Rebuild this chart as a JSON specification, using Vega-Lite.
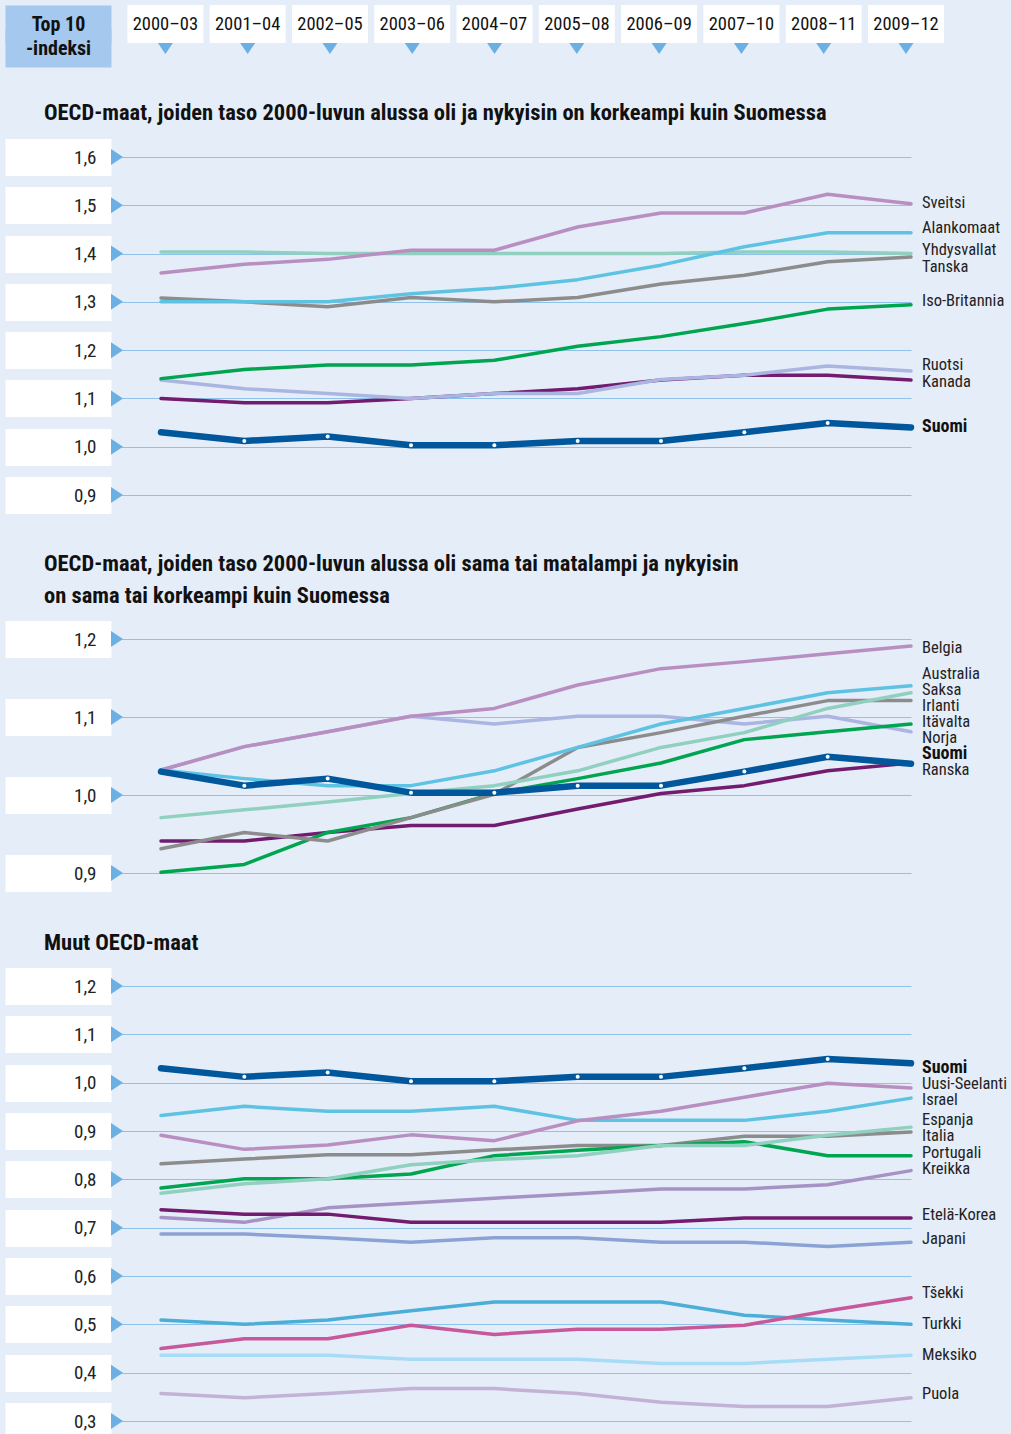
{
"$schema": "https://vega.github.io/schema/vega-lite/v6.json",
"background": "#e5edf9",
"padding": {"left": -14, "top": 5, "right": 12, "bottom": 0},
"spacing": 13,
"resolve": {"scale": {"x": "independent", "y": "independent", "color": "independent"}},
"config": {
  "view": {"stroke": null},
  "font": "Roboto Condensed, Roboto, sans-serif",
  "title": {"font": "Roboto Condensed, Roboto, sans-serif", "fontSize": 22.5, "fontWeight": "bold", "anchor": "start", "frame": "group", "orient": "bottom", "color": "#111111", "dx": -67, "lineHeight": 32},
  "axisY": {"domain": false, "tickColor": "white", "tickWidth": 37, "tickSize": 106, "tickCap": "butt", "grid": true, "gridColor": "#8dc3ea", "gridWidth": 1.2, "labelAlign": "right", "labelBaseline": "middle", "labelPadding": -91, "labelFontSize": 19, "labelColor": "#222222", "labelOverlap": false, "labelFont": "Roboto Condensed, Roboto, sans-serif", "labelExpr": "replace(format(datum.value, '.1f'), '.', ',')"}
},
"datasets": {
  "periods": [
    {"s": 2000, "p": "2000–03"}, {"s": 2001, "p": "2001–04"}, {"s": 2002, "p": "2002–05"}, {"s": 2003, "p": "2003–06"}, {"s": 2004, "p": "2004–07"},
    {"s": 2005, "p": "2005–08"}, {"s": 2006, "p": "2006–09"}, {"s": 2007, "p": "2007–10"}, {"s": 2008, "p": "2008–11"}, {"s": 2009, "p": "2009–12"}
  ],
  "fi": [
    {"c": "Suomi", "s": 2000, "v": 1.03}, {"c": "Suomi", "s": 2001, "v": 1.012}, {"c": "Suomi", "s": 2002, "v": 1.021}, {"c": "Suomi", "s": 2003, "v": 1.003}, {"c": "Suomi", "s": 2004, "v": 1.003},
    {"c": "Suomi", "s": 2005, "v": 1.012}, {"c": "Suomi", "s": 2006, "v": 1.012}, {"c": "Suomi", "s": 2007, "v": 1.03}, {"c": "Suomi", "s": 2008, "v": 1.049}, {"c": "Suomi", "s": 2009, "v": 1.04}
  ],
  "p1": [
    {"c": "Kanada", "s": 2000, "v": 1.10}, {"c": "Kanada", "s": 2001, "v": 1.091}, {"c": "Kanada", "s": 2002, "v": 1.091}, {"c": "Kanada", "s": 2003, "v": 1.10}, {"c": "Kanada", "s": 2004, "v": 1.11},
    {"c": "Kanada", "s": 2005, "v": 1.12}, {"c": "Kanada", "s": 2006, "v": 1.138}, {"c": "Kanada", "s": 2007, "v": 1.148}, {"c": "Kanada", "s": 2008, "v": 1.148}, {"c": "Kanada", "s": 2009, "v": 1.138},
    {"c": "Ruotsi", "s": 2000, "v": 1.138}, {"c": "Ruotsi", "s": 2001, "v": 1.12}, {"c": "Ruotsi", "s": 2002, "v": 1.11}, {"c": "Ruotsi", "s": 2003, "v": 1.10}, {"c": "Ruotsi", "s": 2004, "v": 1.11},
    {"c": "Ruotsi", "s": 2005, "v": 1.11}, {"c": "Ruotsi", "s": 2006, "v": 1.139}, {"c": "Ruotsi", "s": 2007, "v": 1.148}, {"c": "Ruotsi", "s": 2008, "v": 1.167}, {"c": "Ruotsi", "s": 2009, "v": 1.157},
    {"c": "Iso-Britannia", "s": 2000, "v": 1.141}, {"c": "Iso-Britannia", "s": 2001, "v": 1.16}, {"c": "Iso-Britannia", "s": 2002, "v": 1.169}, {"c": "Iso-Britannia", "s": 2003, "v": 1.169}, {"c": "Iso-Britannia", "s": 2004, "v": 1.179},
    {"c": "Iso-Britannia", "s": 2005, "v": 1.208}, {"c": "Iso-Britannia", "s": 2006, "v": 1.228}, {"c": "Iso-Britannia", "s": 2007, "v": 1.255}, {"c": "Iso-Britannia", "s": 2008, "v": 1.285}, {"c": "Iso-Britannia", "s": 2009, "v": 1.294},
    {"c": "Yhdysvallat", "s": 2000, "v": 1.403}, {"c": "Yhdysvallat", "s": 2001, "v": 1.403}, {"c": "Yhdysvallat", "s": 2002, "v": 1.40}, {"c": "Yhdysvallat", "s": 2003, "v": 1.40}, {"c": "Yhdysvallat", "s": 2004, "v": 1.40},
    {"c": "Yhdysvallat", "s": 2005, "v": 1.40}, {"c": "Yhdysvallat", "s": 2006, "v": 1.40}, {"c": "Yhdysvallat", "s": 2007, "v": 1.403}, {"c": "Yhdysvallat", "s": 2008, "v": 1.403}, {"c": "Yhdysvallat", "s": 2009, "v": 1.40},
    {"c": "Tanska", "s": 2000, "v": 1.308}, {"c": "Tanska", "s": 2001, "v": 1.30}, {"c": "Tanska", "s": 2002, "v": 1.29}, {"c": "Tanska", "s": 2003, "v": 1.309}, {"c": "Tanska", "s": 2004, "v": 1.30},
    {"c": "Tanska", "s": 2005, "v": 1.309}, {"c": "Tanska", "s": 2006, "v": 1.337}, {"c": "Tanska", "s": 2007, "v": 1.355}, {"c": "Tanska", "s": 2008, "v": 1.383}, {"c": "Tanska", "s": 2009, "v": 1.393},
    {"c": "Alankomaat", "s": 2000, "v": 1.30}, {"c": "Alankomaat", "s": 2001, "v": 1.30}, {"c": "Alankomaat", "s": 2002, "v": 1.30}, {"c": "Alankomaat", "s": 2003, "v": 1.317}, {"c": "Alankomaat", "s": 2004, "v": 1.328},
    {"c": "Alankomaat", "s": 2005, "v": 1.346}, {"c": "Alankomaat", "s": 2006, "v": 1.376}, {"c": "Alankomaat", "s": 2007, "v": 1.414}, {"c": "Alankomaat", "s": 2008, "v": 1.443}, {"c": "Alankomaat", "s": 2009, "v": 1.443},
    {"c": "Sveitsi", "s": 2000, "v": 1.36}, {"c": "Sveitsi", "s": 2001, "v": 1.378}, {"c": "Sveitsi", "s": 2002, "v": 1.388}, {"c": "Sveitsi", "s": 2003, "v": 1.407}, {"c": "Sveitsi", "s": 2004, "v": 1.407},
    {"c": "Sveitsi", "s": 2005, "v": 1.455}, {"c": "Sveitsi", "s": 2006, "v": 1.484}, {"c": "Sveitsi", "s": 2007, "v": 1.484}, {"c": "Sveitsi", "s": 2008, "v": 1.523}, {"c": "Sveitsi", "s": 2009, "v": 1.503}
  ],
  "l1": [
    {"c": "Sveitsi", "y": 1.505}, {"c": "Alankomaat", "y": 1.453}, {"c": "Yhdysvallat", "y": 1.408}, {"c": "Tanska", "y": 1.373},
    {"c": "Iso-Britannia", "y": 1.301}, {"c": "Ruotsi", "y": 1.17}, {"c": "Kanada", "y": 1.133}, {"c": "Suomi", "y": 1.041}
  ],
  "p2": [
    {"c": "Ranska", "s": 2000, "v": 0.941}, {"c": "Ranska", "s": 2001, "v": 0.941}, {"c": "Ranska", "s": 2002, "v": 0.952}, {"c": "Ranska", "s": 2003, "v": 0.961}, {"c": "Ranska", "s": 2004, "v": 0.961},
    {"c": "Ranska", "s": 2005, "v": 0.982}, {"c": "Ranska", "s": 2006, "v": 1.002}, {"c": "Ranska", "s": 2007, "v": 1.012}, {"c": "Ranska", "s": 2008, "v": 1.031}, {"c": "Ranska", "s": 2009, "v": 1.041},
    {"c": "Norja", "s": 2000, "v": 1.032}, {"c": "Norja", "s": 2001, "v": 1.062}, {"c": "Norja", "s": 2002, "v": 1.081}, {"c": "Norja", "s": 2003, "v": 1.101}, {"c": "Norja", "s": 2004, "v": 1.091},
    {"c": "Norja", "s": 2005, "v": 1.101}, {"c": "Norja", "s": 2006, "v": 1.101}, {"c": "Norja", "s": 2007, "v": 1.091}, {"c": "Norja", "s": 2008, "v": 1.101}, {"c": "Norja", "s": 2009, "v": 1.081},
    {"c": "Itävalta", "s": 2000, "v": 0.901}, {"c": "Itävalta", "s": 2001, "v": 0.911}, {"c": "Itävalta", "s": 2002, "v": 0.952}, {"c": "Itävalta", "s": 2003, "v": 0.971}, {"c": "Itävalta", "s": 2004, "v": 1.002},
    {"c": "Itävalta", "s": 2005, "v": 1.021}, {"c": "Itävalta", "s": 2006, "v": 1.041}, {"c": "Itävalta", "s": 2007, "v": 1.071}, {"c": "Itävalta", "s": 2008, "v": 1.081}, {"c": "Itävalta", "s": 2009, "v": 1.091},
    {"c": "Irlanti", "s": 2000, "v": 0.931}, {"c": "Irlanti", "s": 2001, "v": 0.952}, {"c": "Irlanti", "s": 2002, "v": 0.941}, {"c": "Irlanti", "s": 2003, "v": 0.971}, {"c": "Irlanti", "s": 2004, "v": 1.001},
    {"c": "Irlanti", "s": 2005, "v": 1.061}, {"c": "Irlanti", "s": 2006, "v": 1.08}, {"c": "Irlanti", "s": 2007, "v": 1.101}, {"c": "Irlanti", "s": 2008, "v": 1.121}, {"c": "Irlanti", "s": 2009, "v": 1.121},
    {"c": "Saksa", "s": 2000, "v": 0.971}, {"c": "Saksa", "s": 2001, "v": 0.981}, {"c": "Saksa", "s": 2002, "v": 0.991}, {"c": "Saksa", "s": 2003, "v": 1.002}, {"c": "Saksa", "s": 2004, "v": 1.012},
    {"c": "Saksa", "s": 2005, "v": 1.031}, {"c": "Saksa", "s": 2006, "v": 1.061}, {"c": "Saksa", "s": 2007, "v": 1.08}, {"c": "Saksa", "s": 2008, "v": 1.111}, {"c": "Saksa", "s": 2009, "v": 1.131},
    {"c": "Belgia", "s": 2000, "v": 1.032}, {"c": "Belgia", "s": 2001, "v": 1.062}, {"c": "Belgia", "s": 2002, "v": 1.081}, {"c": "Belgia", "s": 2003, "v": 1.101}, {"c": "Belgia", "s": 2004, "v": 1.111},
    {"c": "Belgia", "s": 2005, "v": 1.141}, {"c": "Belgia", "s": 2006, "v": 1.162}, {"c": "Belgia", "s": 2007, "v": 1.171}, {"c": "Belgia", "s": 2008, "v": 1.181}, {"c": "Belgia", "s": 2009, "v": 1.191},
    {"c": "Australia", "s": 2000, "v": 1.032}, {"c": "Australia", "s": 2001, "v": 1.021}, {"c": "Australia", "s": 2002, "v": 1.012}, {"c": "Australia", "s": 2003, "v": 1.012}, {"c": "Australia", "s": 2004, "v": 1.031},
    {"c": "Australia", "s": 2005, "v": 1.061}, {"c": "Australia", "s": 2006, "v": 1.091}, {"c": "Australia", "s": 2007, "v": 1.111}, {"c": "Australia", "s": 2008, "v": 1.131}, {"c": "Australia", "s": 2009, "v": 1.14}
  ],
  "l2": [
    {"c": "Belgia", "y": 1.188}, {"c": "Australia", "y": 1.155}, {"c": "Saksa", "y": 1.135}, {"c": "Irlanti", "y": 1.114},
    {"c": "Itävalta", "y": 1.094}, {"c": "Norja", "y": 1.073}, {"c": "Suomi", "y": 1.053}, {"c": "Ranska", "y": 1.032}
  ],
  "p3": [
    {"c": "Puola", "s": 2000, "v": 0.357}, {"c": "Puola", "s": 2001, "v": 0.348}, {"c": "Puola", "s": 2002, "v": 0.357}, {"c": "Puola", "s": 2003, "v": 0.367}, {"c": "Puola", "s": 2004, "v": 0.367},
    {"c": "Puola", "s": 2005, "v": 0.357}, {"c": "Puola", "s": 2006, "v": 0.339}, {"c": "Puola", "s": 2007, "v": 0.33}, {"c": "Puola", "s": 2008, "v": 0.33}, {"c": "Puola", "s": 2009, "v": 0.348},
    {"c": "Meksiko", "s": 2000, "v": 0.436}, {"c": "Meksiko", "s": 2001, "v": 0.436}, {"c": "Meksiko", "s": 2002, "v": 0.436}, {"c": "Meksiko", "s": 2003, "v": 0.428}, {"c": "Meksiko", "s": 2004, "v": 0.428},
    {"c": "Meksiko", "s": 2005, "v": 0.428}, {"c": "Meksiko", "s": 2006, "v": 0.419}, {"c": "Meksiko", "s": 2007, "v": 0.419}, {"c": "Meksiko", "s": 2008, "v": 0.428}, {"c": "Meksiko", "s": 2009, "v": 0.436},
    {"c": "Turkki", "s": 2000, "v": 0.509}, {"c": "Turkki", "s": 2001, "v": 0.5}, {"c": "Turkki", "s": 2002, "v": 0.509}, {"c": "Turkki", "s": 2003, "v": 0.528}, {"c": "Turkki", "s": 2004, "v": 0.546},
    {"c": "Turkki", "s": 2005, "v": 0.546}, {"c": "Turkki", "s": 2006, "v": 0.546}, {"c": "Turkki", "s": 2007, "v": 0.519}, {"c": "Turkki", "s": 2008, "v": 0.509}, {"c": "Turkki", "s": 2009, "v": 0.5},
    {"c": "Tšekki", "s": 2000, "v": 0.45}, {"c": "Tšekki", "s": 2001, "v": 0.47}, {"c": "Tšekki", "s": 2002, "v": 0.47}, {"c": "Tšekki", "s": 2003, "v": 0.498}, {"c": "Tšekki", "s": 2004, "v": 0.479},
    {"c": "Tšekki", "s": 2005, "v": 0.49}, {"c": "Tšekki", "s": 2006, "v": 0.49}, {"c": "Tšekki", "s": 2007, "v": 0.498}, {"c": "Tšekki", "s": 2008, "v": 0.528}, {"c": "Tšekki", "s": 2009, "v": 0.555},
    {"c": "Japani", "s": 2000, "v": 0.687}, {"c": "Japani", "s": 2001, "v": 0.687}, {"c": "Japani", "s": 2002, "v": 0.679}, {"c": "Japani", "s": 2003, "v": 0.67}, {"c": "Japani", "s": 2004, "v": 0.679},
    {"c": "Japani", "s": 2005, "v": 0.679}, {"c": "Japani", "s": 2006, "v": 0.67}, {"c": "Japani", "s": 2007, "v": 0.67}, {"c": "Japani", "s": 2008, "v": 0.661}, {"c": "Japani", "s": 2009, "v": 0.67},
    {"c": "Kreikka", "s": 2000, "v": 0.721}, {"c": "Kreikka", "s": 2001, "v": 0.711}, {"c": "Kreikka", "s": 2002, "v": 0.741}, {"c": "Kreikka", "s": 2003, "v": 0.751}, {"c": "Kreikka", "s": 2004, "v": 0.761},
    {"c": "Kreikka", "s": 2005, "v": 0.77}, {"c": "Kreikka", "s": 2006, "v": 0.78}, {"c": "Kreikka", "s": 2007, "v": 0.78}, {"c": "Kreikka", "s": 2008, "v": 0.789}, {"c": "Kreikka", "s": 2009, "v": 0.818},
    {"c": "Etelä-Korea", "s": 2000, "v": 0.737}, {"c": "Etelä-Korea", "s": 2001, "v": 0.728}, {"c": "Etelä-Korea", "s": 2002, "v": 0.728}, {"c": "Etelä-Korea", "s": 2003, "v": 0.711}, {"c": "Etelä-Korea", "s": 2004, "v": 0.711},
    {"c": "Etelä-Korea", "s": 2005, "v": 0.711}, {"c": "Etelä-Korea", "s": 2006, "v": 0.711}, {"c": "Etelä-Korea", "s": 2007, "v": 0.72}, {"c": "Etelä-Korea", "s": 2008, "v": 0.72}, {"c": "Etelä-Korea", "s": 2009, "v": 0.72},
    {"c": "Italia", "s": 2000, "v": 0.832}, {"c": "Italia", "s": 2001, "v": 0.842}, {"c": "Italia", "s": 2002, "v": 0.851}, {"c": "Italia", "s": 2003, "v": 0.851}, {"c": "Italia", "s": 2004, "v": 0.861},
    {"c": "Italia", "s": 2005, "v": 0.87}, {"c": "Italia", "s": 2006, "v": 0.87}, {"c": "Italia", "s": 2007, "v": 0.889}, {"c": "Italia", "s": 2008, "v": 0.889}, {"c": "Italia", "s": 2009, "v": 0.898},
    {"c": "Portugali", "s": 2000, "v": 0.782}, {"c": "Portugali", "s": 2001, "v": 0.801}, {"c": "Portugali", "s": 2002, "v": 0.801}, {"c": "Portugali", "s": 2003, "v": 0.811}, {"c": "Portugali", "s": 2004, "v": 0.849},
    {"c": "Portugali", "s": 2005, "v": 0.86}, {"c": "Portugali", "s": 2006, "v": 0.87}, {"c": "Portugali", "s": 2007, "v": 0.878}, {"c": "Portugali", "s": 2008, "v": 0.849}, {"c": "Portugali", "s": 2009, "v": 0.849},
    {"c": "Espanja", "s": 2000, "v": 0.771}, {"c": "Espanja", "s": 2001, "v": 0.791}, {"c": "Espanja", "s": 2002, "v": 0.801}, {"c": "Espanja", "s": 2003, "v": 0.83}, {"c": "Espanja", "s": 2004, "v": 0.841},
    {"c": "Espanja", "s": 2005, "v": 0.849}, {"c": "Espanja", "s": 2006, "v": 0.87}, {"c": "Espanja", "s": 2007, "v": 0.87}, {"c": "Espanja", "s": 2008, "v": 0.891}, {"c": "Espanja", "s": 2009, "v": 0.908},
    {"c": "Israel", "s": 2000, "v": 0.932}, {"c": "Israel", "s": 2001, "v": 0.951}, {"c": "Israel", "s": 2002, "v": 0.941}, {"c": "Israel", "s": 2003, "v": 0.941}, {"c": "Israel", "s": 2004, "v": 0.951},
    {"c": "Israel", "s": 2005, "v": 0.922}, {"c": "Israel", "s": 2006, "v": 0.922}, {"c": "Israel", "s": 2007, "v": 0.922}, {"c": "Israel", "s": 2008, "v": 0.941}, {"c": "Israel", "s": 2009, "v": 0.968},
    {"c": "Uusi-Seelanti", "s": 2000, "v": 0.891}, {"c": "Uusi-Seelanti", "s": 2001, "v": 0.862}, {"c": "Uusi-Seelanti", "s": 2002, "v": 0.871}, {"c": "Uusi-Seelanti", "s": 2003, "v": 0.892}, {"c": "Uusi-Seelanti", "s": 2004, "v": 0.88},
    {"c": "Uusi-Seelanti", "s": 2005, "v": 0.921}, {"c": "Uusi-Seelanti", "s": 2006, "v": 0.941}, {"c": "Uusi-Seelanti", "s": 2007, "v": 0.97}, {"c": "Uusi-Seelanti", "s": 2008, "v": 0.999}, {"c": "Uusi-Seelanti", "s": 2009, "v": 0.989}
  ],
  "l3": [
    {"c": "Suomi", "y": 1.031}, {"c": "Uusi-Seelanti", "y": 0.998}, {"c": "Israel", "y": 0.965}, {"c": "Espanja", "y": 0.923}, {"c": "Italia", "y": 0.89},
    {"c": "Portugali", "y": 0.855}, {"c": "Kreikka", "y": 0.822}, {"c": "Etelä-Korea", "y": 0.727}, {"c": "Japani", "y": 0.677},
    {"c": "Tšekki", "y": 0.565}, {"c": "Turkki", "y": 0.501}, {"c": "Meksiko", "y": 0.437}, {"c": "Puola", "y": 0.356}
  ],
  "t1": [{"t": 0.9}, {"t": 1.0}, {"t": 1.1}, {"t": 1.2}, {"t": 1.3}, {"t": 1.4}, {"t": 1.5}, {"t": 1.6}],
  "t2": [{"t": 0.9}, {"t": 1.0}, {"t": 1.1}, {"t": 1.2}],
  "t3": [{"t": 0.3}, {"t": 0.4}, {"t": 0.5}, {"t": 0.6}, {"t": 0.7}, {"t": 0.8}, {"t": 0.9}, {"t": 1.0}, {"t": 1.1}, {"t": 1.2}]
},
"vconcat": [
  {
    "width": 800, "height": 62,
    "data": {"name": "periods"},
    "title": {"text": "OECD-maat, joiden taso 2000-luvun alussa oli ja nykyisin on korkeampi kuin Suomessa", "offset": 35},
    "layer": [
      {"mark": {"type": "bar", "width": 76, "color": "white"},
       "encoding": {
         "x": {"field": "s", "type": "quantitative", "scale": {"domain": [1999.4, 2009], "nice": false, "zero": false}, "axis": null},
         "y": {"datum": 0, "type": "quantitative", "scale": {"domain": [0, 62], "reverse": true, "nice": false, "zero": false},
               "axis": {"values": [19, 43], "tickColor": "#a5c9ee", "tickWidth": 38, "tickSize": 106, "grid": false, "labelExpr": "datum.value < 30 ? 'Top 10' : '-indeksi'", "labelAlign": "center", "labelPadding": -53, "labelFontWeight": "bold", "labelFontSize": 20, "labelColor": "#111111", "title": null}},
         "y2": {"datum": 38}}},
      {"mark": {"type": "text", "fontSize": 18.5, "color": "#111111", "baseline": "middle"},
       "encoding": {
         "x": {"field": "s", "type": "quantitative"},
         "y": {"datum": 19, "type": "quantitative"},
         "text": {"field": "p"}}},
      {"mark": {"type": "point", "shape": "M-1,-0.73L1,-0.73L0,0.73Z", "filled": true, "size": 225, "color": "#6cb0e3", "opacity": 1},
       "encoding": {
         "x": {"field": "s", "type": "quantitative"},
         "y": {"datum": 43.5, "type": "quantitative"}}}
    ]
  },
  {
    "width": 800, "height": 338,
    "title": {"text": ["OECD-maat, joiden taso 2000-luvun alussa oli sama tai matalampi ja nykyisin", "on sama tai korkeampi kuin Suomessa"], "offset": 39},
    "layer": [
      {"mark": {"type": "rule", "color": "#6cb0e4", "strokeWidth": 5},
       "encoding": {"y": {"datum": 1, "type": "quantitative", "scale": {"domain": [0.9, 1.6], "nice": false, "zero": false}, "axis": {"values": [0.9, 1.0, 1.1, 1.2, 1.3, 1.4, 1.5, 1.6], "title": null}}}},
      {"data": {"name": "p1"},
       "mark": {"type": "line", "strokeWidth": 3.5, "strokeCap": "round", "strokeJoin": "round"},
       "encoding": {
         "x": {"field": "s", "type": "quantitative", "scale": {"domain": [1999.4, 2009], "nice": false, "zero": false}, "axis": null},
         "y": {"field": "v", "type": "quantitative"},
         "color": {"field": "c", "type": "nominal", "legend": null, "sort": null,
           "scale": {"domain": ["Sveitsi", "Alankomaat", "Yhdysvallat", "Tanska", "Iso-Britannia", "Ruotsi", "Kanada"],
                     "range": ["#b88fc0", "#5ec3e3", "#8fd0bf", "#8c8c8c", "#00a550", "#aab5e2", "#731b6e"]}}}},
      {"data": {"name": "fi"},
       "mark": {"type": "line", "strokeWidth": 6.5, "strokeCap": "round", "strokeJoin": "round", "color": "#00579b"},
       "encoding": {"x": {"field": "s", "type": "quantitative"}, "y": {"field": "v", "type": "quantitative"}}},
      {"data": {"name": "fi"},
       "transform": [{"filter": "datum.s >= 2001 && datum.s <= 2008"}],
       "mark": {"type": "circle", "size": 16, "color": "white", "opacity": 1},
       "encoding": {"x": {"field": "s", "type": "quantitative"}, "y": {"field": "v", "type": "quantitative"}}},
      {"data": {"name": "t1"},
       "mark": {"type": "point", "shape": "M-0.75,-1L0.75,0L-0.75,1Z", "filled": true, "size": 256, "color": "#6cb0e3", "opacity": 1, "xOffset": 6},
       "encoding": {"x": {"datum": 1999.4, "type": "quantitative"}, "y": {"field": "t", "type": "quantitative"}}},
      {"data": {"name": "l1"},
       "transform": [{"filter": "datum.c != 'Suomi'"}],
       "mark": {"type": "text", "align": "left", "baseline": "middle", "dx": 11, "fontSize": 16.5, "color": "#222222"},
       "encoding": {"x": {"datum": 2009, "type": "quantitative"}, "y": {"field": "y", "type": "quantitative"}, "text": {"field": "c"}}},
      {"data": {"name": "l1"},
       "transform": [{"filter": "datum.c == 'Suomi'"}],
       "mark": {"type": "text", "align": "left", "baseline": "middle", "dx": 11, "fontSize": 18, "fontWeight": "bold", "color": "#111111"},
       "encoding": {"x": {"datum": 2009, "type": "quantitative"}, "y": {"field": "y", "type": "quantitative"}, "text": {"field": "c"}}}
    ]
  },
  {
    "width": 800, "height": 234,
    "title": {"text": "Muut OECD-maat", "offset": 40},
    "layer": [
      {"mark": {"type": "rule", "color": "#6cb0e4", "strokeWidth": 5},
       "encoding": {"y": {"datum": 1, "type": "quantitative", "scale": {"domain": [0.9, 1.2], "nice": false, "zero": false}, "axis": {"values": [0.9, 1.0, 1.1, 1.2], "title": null}}}},
      {"data": {"name": "p2"},
       "mark": {"type": "line", "strokeWidth": 3.5, "strokeCap": "round", "strokeJoin": "round"},
       "encoding": {
         "x": {"field": "s", "type": "quantitative", "scale": {"domain": [1999.4, 2009], "nice": false, "zero": false}, "axis": null},
         "y": {"field": "v", "type": "quantitative"},
         "color": {"field": "c", "type": "nominal", "legend": null, "sort": null,
           "scale": {"domain": ["Belgia", "Australia", "Saksa", "Irlanti", "Itävalta", "Norja", "Ranska"],
                     "range": ["#b88fc0", "#5ec3e3", "#8fd0bf", "#8c8c8c", "#00a550", "#aab5e2", "#731b6e"]}}}},
      {"data": {"name": "fi"},
       "mark": {"type": "line", "strokeWidth": 6.5, "strokeCap": "round", "strokeJoin": "round", "color": "#00579b"},
       "encoding": {"x": {"field": "s", "type": "quantitative"}, "y": {"field": "v", "type": "quantitative"}}},
      {"data": {"name": "fi"},
       "transform": [{"filter": "datum.s >= 2001 && datum.s <= 2008"}],
       "mark": {"type": "circle", "size": 16, "color": "white", "opacity": 1},
       "encoding": {"x": {"field": "s", "type": "quantitative"}, "y": {"field": "v", "type": "quantitative"}}},
      {"data": {"name": "t2"},
       "mark": {"type": "point", "shape": "M-0.75,-1L0.75,0L-0.75,1Z", "filled": true, "size": 256, "color": "#6cb0e3", "opacity": 1, "xOffset": 6},
       "encoding": {"x": {"datum": 1999.4, "type": "quantitative"}, "y": {"field": "t", "type": "quantitative"}}},
      {"data": {"name": "l2"},
       "transform": [{"filter": "datum.c != 'Suomi'"}],
       "mark": {"type": "text", "align": "left", "baseline": "middle", "dx": 11, "fontSize": 16.5, "color": "#222222"},
       "encoding": {"x": {"datum": 2009, "type": "quantitative"}, "y": {"field": "y", "type": "quantitative"}, "text": {"field": "c"}}},
      {"data": {"name": "l2"},
       "transform": [{"filter": "datum.c == 'Suomi'"}],
       "mark": {"type": "text", "align": "left", "baseline": "middle", "dx": 11, "fontSize": 18, "fontWeight": "bold", "color": "#111111"},
       "encoding": {"x": {"datum": 2009, "type": "quantitative"}, "y": {"field": "y", "type": "quantitative"}, "text": {"field": "c"}}}
    ]
  },
  {
    "width": 800, "height": 435,
    "layer": [
      {"mark": {"type": "rule", "color": "#6cb0e4", "strokeWidth": 5},
       "encoding": {"y": {"datum": 1, "type": "quantitative", "scale": {"domain": [0.3, 1.2], "nice": false, "zero": false}, "axis": {"values": [0.3, 0.4, 0.5, 0.6, 0.7, 0.8, 0.9, 1.0, 1.1, 1.2], "title": null}}}},
      {"data": {"name": "p3"},
       "mark": {"type": "line", "strokeWidth": 3.5, "strokeCap": "round", "strokeJoin": "round"},
       "encoding": {
         "x": {"field": "s", "type": "quantitative", "scale": {"domain": [1999.4, 2009], "nice": false, "zero": false}, "axis": null},
         "y": {"field": "v", "type": "quantitative"},
         "color": {"field": "c", "type": "nominal", "legend": null, "sort": null,
           "scale": {"domain": ["Uusi-Seelanti", "Israel", "Espanja", "Italia", "Portugali", "Kreikka", "Etelä-Korea", "Japani", "Turkki", "Tšekki", "Meksiko", "Puola"],
                     "range": ["#b88fc0", "#5ec3e3", "#8fd0bf", "#8c8c8c", "#00a550", "#a692c4", "#731b6e", "#8aa3d4", "#4aaed6", "#c7589a", "#a7dcf6", "#c3b1d6"]}}}},
      {"data": {"name": "fi"},
       "mark": {"type": "line", "strokeWidth": 6.5, "strokeCap": "round", "strokeJoin": "round", "color": "#00579b"},
       "encoding": {"x": {"field": "s", "type": "quantitative"}, "y": {"field": "v", "type": "quantitative"}}},
      {"data": {"name": "fi"},
       "transform": [{"filter": "datum.s >= 2001 && datum.s <= 2008"}],
       "mark": {"type": "circle", "size": 16, "color": "white", "opacity": 1},
       "encoding": {"x": {"field": "s", "type": "quantitative"}, "y": {"field": "v", "type": "quantitative"}}},
      {"data": {"name": "t3"},
       "mark": {"type": "point", "shape": "M-0.75,-1L0.75,0L-0.75,1Z", "filled": true, "size": 256, "color": "#6cb0e3", "opacity": 1, "xOffset": 6},
       "encoding": {"x": {"datum": 1999.4, "type": "quantitative"}, "y": {"field": "t", "type": "quantitative"}}},
      {"data": {"name": "l3"},
       "transform": [{"filter": "datum.c != 'Suomi'"}],
       "mark": {"type": "text", "align": "left", "baseline": "middle", "dx": 11, "fontSize": 16.5, "color": "#222222"},
       "encoding": {"x": {"datum": 2009, "type": "quantitative"}, "y": {"field": "y", "type": "quantitative"}, "text": {"field": "c"}}},
      {"data": {"name": "l3"},
       "transform": [{"filter": "datum.c == 'Suomi'"}],
       "mark": {"type": "text", "align": "left", "baseline": "middle", "dx": 11, "fontSize": 18, "fontWeight": "bold", "color": "#111111"},
       "encoding": {"x": {"datum": 2009, "type": "quantitative"}, "y": {"field": "y", "type": "quantitative"}, "text": {"field": "c"}}}
    ]
  }
]
}
